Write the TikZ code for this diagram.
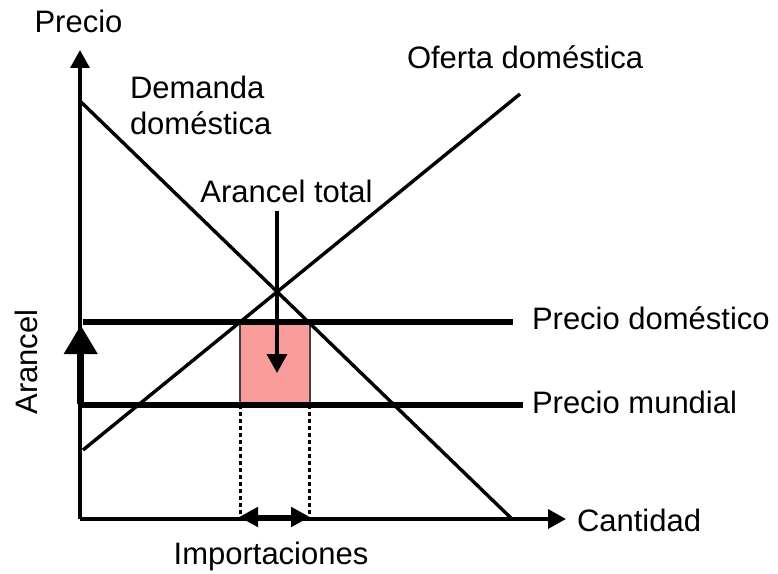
\documentclass[tikz,border=0pt]{standalone}
\usepackage{fontspec}
\setmainfont{Liberation Sans}
\usetikzlibrary{arrows.meta}
\begin{document}
\begin{tikzpicture}[x=1bp,y=-1bp,
  lbl/.style={inner sep=0pt,outer sep=0pt,font=\fontsize{31bp}{36bp}\selectfont},
  thinln/.style={line width=3.4bp},
  thickln/.style={line width=6bp},
  dotln/.style={line width=3bp,dash pattern=on 4bp off 3bp},
  axtip/.style={-{Triangle[length=18bp,width=19bp]}},
]
\useasboundingbox (0,0) rectangle (778,574);
% coordinates
\coordinate (O) at (80,519);
\coordinate (ytop) at (80,50);
\coordinate (xend) at (566,519);
\coordinate (D1) at (80,101);
\coordinate (D2) at (512,519);
\coordinate (S1) at (83,450);
\coordinate (S2) at (520,94);
\coordinate (PD1) at (83,322);
\coordinate (PD2) at (513,322);
\coordinate (PM1) at (80,405);
\coordinate (PM2) at (523,405);
\coordinate (R1) at (240,322);
\coordinate (R2) at (310,405);
\coordinate (L1) at (240,405);
\coordinate (L1b) at (240,519);
\coordinate (L2) at (309,405);
\coordinate (L2b) at (309,519);
\coordinate (I1) at (239,517);
\coordinate (I2) at (310,517);
\coordinate (T1) at (277,211);
\coordinate (T2) at (277,373);
\coordinate (A1) at (80.7,404);
\coordinate (A2) at (80.7,325);
% tariff rectangle
\fill[fill={rgb,255:red,248;green,156;blue,156}] (R1) rectangle (R2);
\draw[line width=1.2bp,black!75] (R1) rectangle (R2);
% dotted lines
\draw[dotln] (L1) -- (L1b);
\draw[dotln] (L2) -- (L2b);
% axes
\draw[thinln,axtip] (O) -- (ytop);
\draw[thinln,axtip] (O) -- (xend);
% curves
\draw[thinln] (D1) -- (D2);
\draw[thinln] (S1) -- (S2);
% price lines
\draw[thickln] (PD1) -- (PD2);
\draw[thickln] (PM1) -- (PM2);
% arrows
\draw[thinln,-{Triangle[length=19bp,width=20bp]}] (T1) -- (T2);
\draw[line width=5bp,{Triangle[length=19bp,width=19bp]}-{Triangle[length=19bp,width=19bp]}] (I1) -- (I2);
\draw[line width=7bp,-{Triangle[length=29bp,width=32bp]}] (A1) -- (A2);
% labels
\node[lbl,anchor=base] (precio) at (78.5,33) {Precio};
\node[lbl,anchor=base west] (dem1) at (130,99) {Demanda};
\node[lbl,anchor=base west] (dem2) at (130,135) {doméstica};
\node[lbl,anchor=base west] (ofe) at (407,69) {Oferta doméstica};
\node[lbl,anchor=base] (arct) at (286.5,203) {Arancel total};
\node[lbl,anchor=base west] (pdom) at (532,329) {Precio doméstico};
\node[lbl,anchor=base west] (pmun) at (532,413) {Precio mundial};
\node[lbl,anchor=base west] (cant) at (577,531) {Cantidad};
\node[lbl,anchor=base] (imp) at (271,564) {Importaciones};
\node[lbl,anchor=base,rotate=90] (aran) at (37,362) {Arancel};
\end{tikzpicture}
\end{document}
